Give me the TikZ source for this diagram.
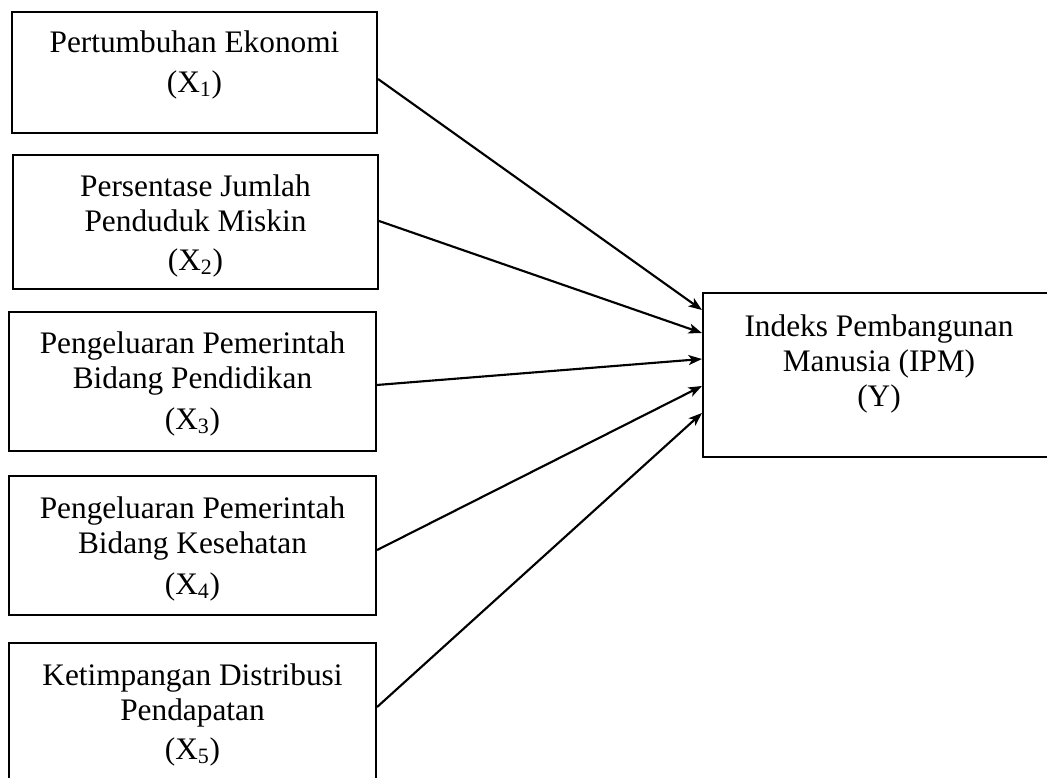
\documentclass[tikz,border=0pt]{standalone}
\usepackage{fontspec}
\setmainfont{Liberation Serif}
\usetikzlibrary{arrows.meta}
\begin{document}
\begin{tikzpicture}[x=0.75pt,y=-0.75pt,
  box/.style={draw, line width=1.6pt, inner sep=0pt},
  lbl/.style={font=\fontsize{23.5}{26.25}\selectfont, align=center, inner sep=0pt, anchor=base},
  arr/.style={line width=1.6pt, -{Stealth[length=10pt,width=7.5pt,inset=2.5pt]}}]
\useasboundingbox (0,0) rectangle (1047,778);
\clip (0,0) rectangle (1047,778);
% boxes
\node[box, minimum width={365*0.75pt}, minimum height={121*0.75pt}] (b1) at (194.5,72.5) {};
\node[box, minimum width={365*0.75pt}, minimum height={134*0.75pt}] (b2) at (195.5,222) {};
\node[box, minimum width={367*0.75pt}, minimum height={139*0.75pt}] (b3) at (192.5,381.5) {};
\node[box, minimum width={367*0.75pt}, minimum height={139*0.75pt}] (b4) at (192.5,545.5) {};
\node[box, minimum width={367*0.75pt}, minimum height={139*0.75pt}] (b5) at (192.5,712.5) {};
\node[box, minimum width={352*0.75pt}, minimum height={164*0.75pt}] (y) at (879,375) {};
% texts (anchor base = last line baseline)
\node[lbl] (t1) at (194.5,92) {Pertumbuhan Ekonomi\\[3.75pt](X\textsubscript{1})};
\node[lbl] (t2) at (195.5,270) {Persentase Jumlah\\Penduduk Miskin\\[2.5pt](X\textsubscript{2})};
\node[lbl] (t3) at (192.5,429) {Pengeluaran Pemerintah\\Bidang Pendidikan\\[4pt](X\textsubscript{3})};
\node[lbl] (t4) at (192.5,594) {Pengeluaran Pemerintah\\Bidang Kesehatan\\[4pt](X\textsubscript{4})};
\node[lbl] (t5) at (192.5,759) {Ketimpangan Distribusi\\Pendapatan\\[2.5pt](X\textsubscript{5})};
\node[lbl] (ty) at (879,406) {Indeks Pembangunan\\Manusia (IPM)\\(Y)};
% arrows
\draw[arr] ([yshift=-4.9pt]b1.east) -- ([yshift=48.75pt]y.west);
\draw[arr] ([yshift=0.75pt]b2.east) -- ([yshift=31.5pt]y.west);
\draw[arr] ([yshift=-2.6pt]b3.east) -- ([yshift=12pt]y.west);
\draw[arr] ([yshift=-3.4pt]b4.east) -- ([yshift=-8.25pt]y.west);
\draw[arr] ([yshift=4.1pt]b5.east) -- ([yshift=-28.5pt]y.west);
\end{tikzpicture}
\end{document}
